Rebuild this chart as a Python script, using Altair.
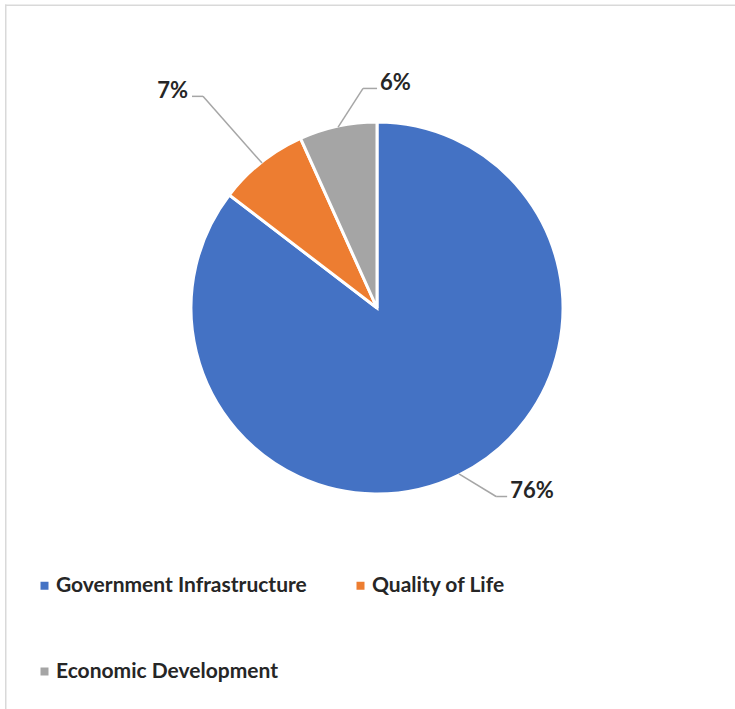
import altair as alt
import pandas as pd

# ---- data ----
categories = ["Government Infrastructure", "Quality of Life", "Economic Development"]
values = [76, 7, 6]
labels = ["76%", "7%", "6%"]
colors = ["#4472C4", "#ED7D31", "#A5A5A5"]

# ---- label layout (annotation styling, not data) ----
label_radius = [223, 274, 220]      # distance of leader elbow from centre
label_shift_deg = [-6, -1, 8.5]     # angular nudge of the elbow
label_tail = [11, -11, 14]          # horizontal tail of leader (sign = side)

CX, CY, R = 377, 308, 186
FONT = "Lato"
TEXT_COLOR = "#262626"

df = pd.DataFrame({
    "category": categories,
    "value": values,
    "label": labels,
    "order": list(range(len(categories))),
    "rl": label_radius,
    "shift": label_shift_deg,
    "tail": label_tail,
})

base = alt.Chart(df)

pie = base.mark_arc(outerRadius=R, stroke="white", strokeWidth=3).encode(
    theta=alt.Theta("value:Q", stack=True),
    order=alt.Order("order:Q"),
    color=alt.Color(
        "category:N",
        scale=alt.Scale(domain=categories, range=colors),
        sort=categories,
        legend=alt.Legend(
            title=None,
            orient="none",
            direction="horizontal",
            legendX=34,
            legendY=575,
            columns=2,
            columnPadding=43,
            rowPadding=64,
            symbolType="square",
            symbolSize=64,
            symbolStrokeWidth=0,
            labelFont=FONT,
            labelFontWeight="bold",
            labelFontSize=21,
            labelColor=TEXT_COLOR,
            labelOffset=1,
            labelLimit=400,
        ),
    ),
    x=alt.value(CX),
    y=alt.value(CY),
)

geo = base.transform_joinaggregate(
    tot="sum(value)"
).transform_window(
    cum="sum(value)", sort=[alt.SortField("order")], frame=[None, 0]
).transform_calculate(
    mid="(datum.cum - datum.value/2) / datum.tot * 2 * PI",
).transform_calculate(
    x0=f"{CX} + {R - 1} * sin(datum.mid)",
    y0=f"{CY} - {R - 1} * cos(datum.mid)",
    a1="datum.mid + datum.shift * PI / 180",
).transform_calculate(
    x1=f"{CX} + datum.rl * sin(datum.a1)",
    y1=f"{CY} - datum.rl * cos(datum.a1)",
).transform_calculate(
    x2="datum.x1 + datum.tail",
    tx="datum.x1 + datum.tail + (datum.tail > 0 ? 3 : -4)",
    ty="datum.y1 + 1.5",
)

lead1 = geo.mark_rule(color="#A6A6A6", strokeWidth=1.5).encode(
    x=alt.X("x0:Q", scale=None, axis=None),
    y=alt.Y("y0:Q", scale=None, axis=None),
    x2="x1:Q",
    y2="y1:Q",
)
lead2 = geo.mark_rule(color="#A6A6A6", strokeWidth=1.5).encode(
    x=alt.X("x1:Q", scale=None, axis=None),
    y=alt.Y("y1:Q", scale=None, axis=None),
    x2="x2:Q",
    y2="y1:Q",
)
txt_r = geo.transform_filter("datum.tail > 0").mark_text(
    align="left", baseline="alphabetic", font=FONT, fontWeight="bold",
    fontSize=22, color=TEXT_COLOR,
).encode(
    x=alt.X("tx:Q", scale=None, axis=None),
    y=alt.Y("ty:Q", scale=None, axis=None),
    text="label:N",
)
txt_l = geo.transform_filter("datum.tail < 0").mark_text(
    align="right", baseline="alphabetic", font=FONT, fontWeight="bold",
    fontSize=22, color=TEXT_COLOR,
).encode(
    x=alt.X("tx:Q", scale=None, axis=None),
    y=alt.Y("ty:Q", scale=None, axis=None),
    text="label:N",
)

frame_data = alt.Data(values=[{"k": 1}])
frame_left = alt.Chart(frame_data).mark_rule(color="#D9D9D9", strokeWidth=1.5).encode(
    x=alt.value(5.75), y=alt.value(4.5), y2=alt.value(709)
)
frame_top = alt.Chart(frame_data).mark_rule(color="#D9D9D9", strokeWidth=1.5).encode(
    x=alt.value(5), x2=alt.value(735), y=alt.value(5.25)
)

chart = alt.layer(
    frame_left, frame_top, pie, lead1, lead2, txt_r, txt_l
).properties(
    width=735, height=709, padding=0,
    autosize=alt.AutoSizeParams(type="none"),
    background="white",
).configure_view(stroke=None)

chart.save("out.html", embed_options={"renderer": "svg", "actions": False})
